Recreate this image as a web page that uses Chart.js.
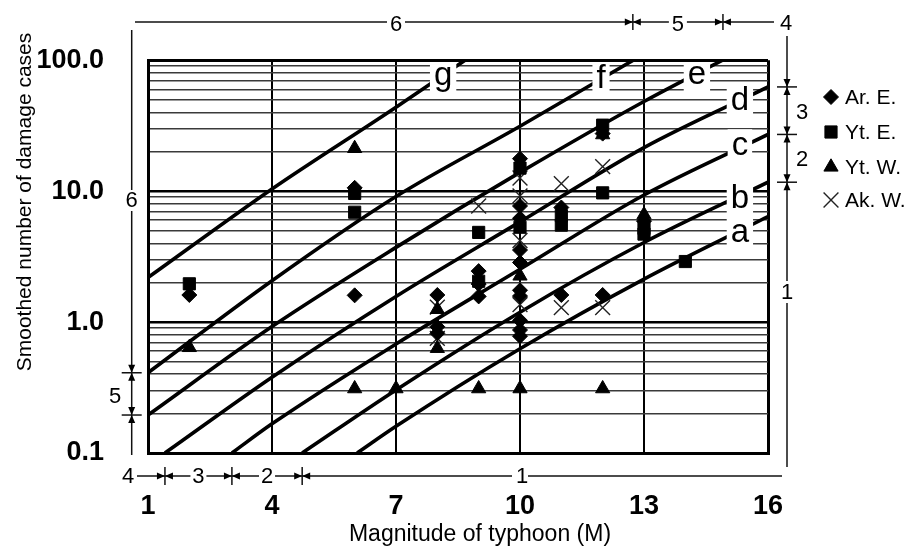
<!DOCTYPE html>
<html lang="en">
<head>
<meta charset="utf-8">
<title>Smoothed damage cases vs typhoon magnitude</title>
<style>
  body { margin: 0; background: #fff; }
  canvas { display: block; }
</style>
</head>
<body>

<canvas id="chart" width="924" height="548"></canvas>

<script src="https://cdn.jsdelivr.net/npm/chart.js"></script>
<script>

// axis ticks
const xTicks = [1, 4, 7, 10, 13, 16];
const yTickValues = [0.1, 1, 10, 100];
const yTickLabels = ['0.1', '1.0', '10.0', '100.0'];

// observed points: magnitude M and smoothed number of damage cases
const seriesNames = ['Ar. E.', 'Yt. E.', 'Yt. W.', 'Ak. W.'];

const arEastM     = [2, 6, 6, 8, 8, 8, 9, 9, 9, 10, 10, 10, 10, 10, 10, 10, 10, 10, 10, 11, 11, 12, 12, 13];
const arEastCases = [1.61, 10.6, 1.6, 1.61, 0.92, 0.82, 2.45, 1.95, 1.57, 17.7, 7.7, 6.2, 3.55, 2.85, 1.75, 1.58, 1.03, 0.87, 0.78, 7.5, 1.61, 27.5, 1.61, 5.9];

const ytEastM     = [2, 6, 6, 9, 9, 10, 10, 11, 11, 12, 12, 13, 13, 14];
const ytEastCases = [1.96, 9.6, 6.9, 4.84, 2.05, 15.0, 5.3, 6.5, 5.5, 31.9, 9.7, 5.2, 4.7, 2.9];

const ytWestM     = [2, 6, 6, 7, 8, 8, 9, 10, 10, 12, 12, 13];
const ytWestCases = [0.64, 21.2, 0.31, 0.31, 1.25, 0.63, 0.31, 2.25, 0.31, 27, 0.31, 6.6];

const akWestM     = [8, 8, 9, 10, 10, 10, 10, 11, 11, 12, 12];
const akWestCases = [1.3, 0.75, 7.7, 12.6, 9.2, 4.2, 1.36, 11.4, 1.29, 15.4, 1.29];

// curves a..g, read where they cross the frame and the grid
const curveNames = ['a', 'b', 'c', 'd', 'e', 'f', 'g'];
const curveM = [
    [6.06, 7, 10, 13, 16],
    [4.73, 7, 10, 13, 16],
    [3.03, 4, 7, 10, 13, 16],
    [1.41, 4, 7, 10, 13, 16],
    [1, 4, 7, 10, 13, 14.9],
    [1, 4, 7, 10, 12.74],
    [1, 4, 7, 8.67]
];
const curveCases = [
    [0.1, 0.16, 0.626, 2.13, 6.4],
    [0.1, 0.303, 1.19, 4.05, 11.7],
    [0.1, 0.167, 0.68, 2.53, 9.34, 27.1],
    [0.1, 0.379, 1.57, 5.82, 21.5, 62.5],
    [0.195, 0.925, 3.72, 13.9, 48.4, 100],
    [0.41, 2.07, 9.1, 31.3, 100],
    [2.19, 10.4, 43.8, 100]
];

// region numbers marked around the frame and where they change
const topRegionM = [12.73, 14.91];
const bottomRegionM = [1.41, 3.03, 4.73];
const rightRegionCases = [62.5, 27.1, 11.7];
const leftRegionCases = [0.41, 0.195];


const narrowFont = '"Liberation Sans Narrow", "Liberation Sans", sans-serif';
Chart.defaults.font.family = '"Liberation Sans", Arial, sans-serif';
Chart.defaults.color = '#000';

function points(ms, vs) {
    return ms.map(function (m, i) { return { x: m, y: vs[i] }; });
}

function sameValue(a, b) {
    return Math.abs(a / b - 1) < 1e-6;
}

// minor log grid 0.1..100
var yGrid = [];
[0.1, 1, 10].forEach(function (dec) {
    for (var k = 1; k <= 9; k++) yGrid.push(dec * k);
});
yGrid.push(100);

var markerStyles = [
    { pointStyle: 'rectRot', radius: 7.5, borderWidth: 1 },
    { pointStyle: 'rect', radius: 8.6, borderWidth: 1 },
    { pointStyle: 'triangle', radius: 8.2, borderWidth: 1 },
    { pointStyle: 'crossRot', radius: 10.5, borderWidth: 1.4 }
];
var markerData = [
    points(arEastM, arEastCases),
    points(ytEastM, ytEastCases),
    points(ytWestM, ytWestCases),
    points(akWestM, akWestCases)
];

var datasets = [];
seriesNames.forEach(function (name, i) {
    datasets.push({
        label: name,
        data: markerData[i],
        pointStyle: markerStyles[i].pointStyle,
        pointRadius: markerStyles[i].radius,
        pointBorderWidth: markerStyles[i].borderWidth,
        pointBackgroundColor: '#000',
        pointBorderColor: i === 3 ? '#222' : '#000',
        showLine: false
    });
});
curveNames.forEach(function (name, i) {
    datasets.push({
        label: name,
        data: points(curveM[i], curveCases[i]),
        showLine: true,
        pointRadius: 0,
        borderColor: '#000',
        borderWidth: 3.6,
        cubicInterpolationMode: 'monotone',
        fill: false
    });
});

// where the curve letters sit (letter centre x, baseline)
var curveLabelAt = {
    a: [15.32, 4.09], b: [15.32, 7.48], c: [15.32, 18.8], d: [15.32, 41.8],
    e: [14.28, 65.8], f: [11.96, 61.5], g: [8.14, 64.6]
};


function hLine(ctx, x1, x2, y) {
    ctx.beginPath(); ctx.moveTo(x1, y); ctx.lineTo(x2, y); ctx.stroke();
}
function vLine(ctx, x, y1, y2) {
    ctx.beginPath(); ctx.moveTo(x, y1); ctx.lineTo(x, y2); ctx.stroke();
}
function head(ctx, x, y, dir) {
    var L = 8, W = 3.5;
    ctx.beginPath();
    ctx.moveTo(x, y);
    if (dir === 'r') { ctx.lineTo(x - L, y - W); ctx.lineTo(x - L, y + W); }
    if (dir === 'l') { ctx.lineTo(x + L, y - W); ctx.lineTo(x + L, y + W); }
    if (dir === 'd') { ctx.lineTo(x - W, y - L); ctx.lineTo(x + W, y - L); }
    if (dir === 'u') { ctx.lineTo(x - W, y + L); ctx.lineTo(x + W, y + L); }
    ctx.closePath();
    ctx.fill();
}

const annotate = {
    id: 'annotate',
    afterDatasetsDraw: function (chart) {
        var ctx = chart.ctx, area = chart.chartArea;
        var xs = chart.scales.x, ys = chart.scales.y;
        ctx.save();
        ctx.font = '33px "Liberation Sans", Arial, sans-serif';
        ctx.textAlign = 'center';
        ctx.textBaseline = 'alphabetic';
        curveNames.forEach(function (name) {
            var px = xs.getPixelForValue(curveLabelAt[name][0]);
            var py = ys.getPixelForValue(curveLabelAt[name][1]);
            var w = ctx.measureText(name).width + 8;
            var top = Math.max(py - 26, area.top + 2);
            ctx.fillStyle = '#fff';
            ctx.fillRect(px - w / 2, top, w, py + 8 - top);
            ctx.fillStyle = '#000';
            ctx.fillText(name, px, py);
        });
        ctx.restore();
    },
    afterDraw: function (chart) {
        var ctx = chart.ctx;
        var xs = chart.scales.x, ys = chart.scales.y;
        ctx.save();
        ctx.strokeStyle = '#111';
        ctx.fillStyle = '#000';
        ctx.lineWidth = 1.5;
        ctx.font = '22px ' + narrowFont;
        ctx.textAlign = 'center';
        ctx.textBaseline = 'middle';

        // top
        var ty = 22;
        var t = topRegionM.map(function (v) { return xs.getPixelForValue(v); });
        var six = xs.getPixelForValue(7);
        hLine(ctx, 135, six - 9, ty); hLine(ctx, six + 9, t[0], ty);
        ctx.fillText('6', six, ty + 3);
        head(ctx, t[0], ty, 'r');
        hLine(ctx, t[0], (t[0] + t[1]) / 2 - 9, ty); hLine(ctx, (t[0] + t[1]) / 2 + 9, t[1], ty);
        ctx.fillText('5', (t[0] + t[1]) / 2, ty + 3);
        head(ctx, t[0], ty, 'l'); head(ctx, t[1], ty, 'r');
        hLine(ctx, t[1], 774, ty);
        head(ctx, t[1], ty, 'l');
        ctx.fillText('4', 786, ty + 2);
        t.forEach(function (p) { vLine(ctx, p, ty - 8, ty + 8); });

        // right
        var rx = 787;
        var r = rightRegionCases.map(function (v) { return ys.getPixelForValue(v); });
        vLine(ctx, rx, 36, r[0]); head(ctx, rx, r[0], 'd');
        vLine(ctx, rx, r[0], r[1]); head(ctx, rx, r[0], 'u'); head(ctx, rx, r[1], 'd');
        vLine(ctx, rx, r[1], r[2]); head(ctx, rx, r[1], 'u'); head(ctx, rx, r[2], 'd');
        vLine(ctx, rx, r[2], 281); vLine(ctx, rx, 303, 467); head(ctx, rx, r[2], 'u');
        ctx.fillText('3', 802, (r[0] + r[1]) / 2 + 2);
        ctx.fillText('2', 802, (r[1] + r[2]) / 2 + 2);
        ctx.fillText('1', rx, 293);
        r.forEach(function (p) { hLine(ctx, rx - 10, rx + 10, p); });

        // bottom
        var by = 476;
        var b = bottomRegionM.map(function (v) { return xs.getPixelForValue(v); });
        ctx.fillText('4', 128, by + 1);
        hLine(ctx, 137, b[0], by); head(ctx, b[0], by, 'r');
        hLine(ctx, b[0], (b[0] + b[1]) / 2 - 8, by); hLine(ctx, (b[0] + b[1]) / 2 + 8, b[1], by);
        ctx.fillText('3', (b[0] + b[1]) / 2, by + 1);
        head(ctx, b[0], by, 'l'); head(ctx, b[1], by, 'r');
        hLine(ctx, b[1], (b[1] + b[2]) / 2 - 8, by); hLine(ctx, (b[1] + b[2]) / 2 + 8, b[2], by);
        ctx.fillText('2', (b[1] + b[2]) / 2, by + 1);
        head(ctx, b[1], by, 'l'); head(ctx, b[2], by, 'r');
        var one = xs.getPixelForValue(10);
        hLine(ctx, b[2], one - 8, by); hLine(ctx, one + 8, 782, by);
        ctx.fillText('1', one + 2, by + 1);
        head(ctx, b[2], by, 'l');
        b.forEach(function (p) { vLine(ctx, p, by - 9, by + 9); });

        // left
        var lx = 131.7;
        var l = leftRegionCases.map(function (v) { return ys.getPixelForValue(v); });
        vLine(ctx, lx, 30, 190); vLine(ctx, lx, 211, l[0]);
        ctx.fillText('6', lx, 201);
        head(ctx, lx, l[0], 'd');
        vLine(ctx, lx, l[0], l[1]); head(ctx, lx, l[0], 'u'); head(ctx, lx, l[1], 'd');
        ctx.fillText('5', 115, (l[0] + l[1]) / 2 + 3);
        vLine(ctx, lx, l[1], 455); head(ctx, lx, l[1], 'u');
        l.forEach(function (p) { hLine(ctx, lx - 10, lx + 10, p); });

        // legend
        ctx.font = '21px "Liberation Sans", Arial, sans-serif';
        ctx.textAlign = 'left';
        var rows = [97, 132, 167, 200];
        seriesNames.forEach(function (name, i) {
            ctx.fillStyle = '#000';
            ctx.strokeStyle = i === 3 ? '#222' : '#000';
            ctx.lineWidth = markerStyles[i].borderWidth;
            Chart.helpers.drawPoint(ctx, {
                pointStyle: markerStyles[i].pointStyle,
                radius: markerStyles[i].radius,
                borderWidth: markerStyles[i].borderWidth,
                rotation: 0
            }, 831, rows[i]);
            ctx.fillText(name, 845, rows[i] + 1);
        });

        // axis titles
        ctx.textAlign = 'center';
        ctx.font = '23px "Liberation Sans", Arial, sans-serif';
        ctx.fillText('Magnitude of typhoon (M)', 480, 535);
        ctx.translate(25, 202);
        ctx.rotate(-Math.PI / 2);
        ctx.font = '21px "Liberation Sans", Arial, sans-serif';
        ctx.fillText('Smoothed number of damage cases', 0, 0);
        ctx.restore();
    }
};


new Chart(document.getElementById('chart'), {
    type: 'scatter',
    data: { datasets: datasets },
    options: {
        responsive: false,
        animation: false,
        devicePixelRatio: 1,
        layout: { padding: { left: 0, right: 156, top: 40, bottom: 0 } },
        plugins: {
            legend: { display: false },
            tooltip: { enabled: false }
        },
        scales: {
            x: {
                type: 'linear',
                min: 1,
                max: 16,
                afterBuildTicks: function (s) { s.ticks = xTicks.map(function (v) { return { value: v }; }); },
                afterFit: function (s) { s.height = 95; },
                grid: {
                    color: '#000',
                    lineWidth: function (c) { return (c.tick && (c.tick.value === 1 || c.tick.value === 16)) ? 3 : 2; },
                    drawTicks: false
                },
                border: { color: '#000', width: 3 },
                ticks: {
                    color: '#000',
                    autoSkip: false,
                    maxRotation: 0,
                    padding: 37,
                    font: { family: narrowFont, weight: 'bold', size: 27 }
                }
            },
            y: {
                type: 'logarithmic',
                min: 0.1,
                max: 100,
                afterBuildTicks: function (s) { s.ticks = yGrid.map(function (v) { return { value: v }; }); },
                afterFit: function (s) { s.width = 148; },
                grid: {
                    color: function (c) {
                        var v = c.tick ? c.tick.value : 0;
                        return yTickValues.some(function (t) { return sameValue(t, v); }) ? '#000' : '#3a3a3a';
                    },
                    lineWidth: function (c) {
                        var v = c.tick ? c.tick.value : 0;
                        if (sameValue(v, 100)) return 3;
                        return yTickValues.some(function (t) { return sameValue(t, v); }) ? 2.4 : 1.4;
                    },
                    drawTicks: false
                },
                border: { color: '#000', width: 3 },
                ticks: {
                    color: '#000',
                    autoSkip: false,
                    padding: 44,
                    font: { family: narrowFont, weight: 'bold', size: 27 },
                    callback: function (v) {
                        var i = yTickValues.findIndex(function (t) { return sameValue(t, v); });
                        return i >= 0 ? yTickLabels[i] : '';
                    }
                }
            }
        }
    },
    plugins: [annotate]
});

</script>

</body>
</html>
